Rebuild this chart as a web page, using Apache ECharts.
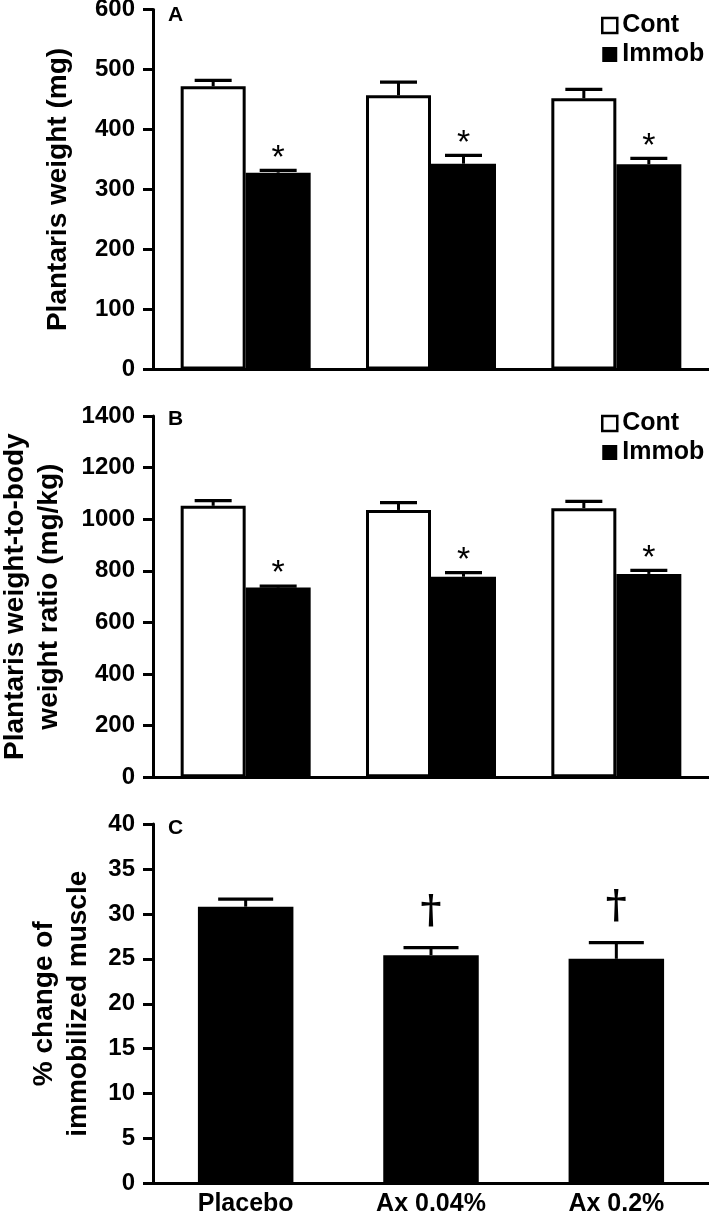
<!DOCTYPE html>
<html><head><meta charset="utf-8">
<script src="https://cdn.jsdelivr.net/npm/echarts@6/dist/echarts.min.js"></script>
<style>html,body{margin:0;padding:0;background:#fff}#c{width:709px;height:1215px}</style>
</head><body><div id="c"></div>
<script>
// ---- data ----
const categories = ['Placebo', 'Ax 0.04%', 'Ax 0.2%'];
const seriesNames = ['Cont', 'Immob'];
// Panel A: plantaris weight (mg)
const weightCont = [472, 457, 452];
const weightContErr = [10, 22, 15];
const weightImmob = [328, 343, 342];
const weightImmobErr = [4, 14, 10];
const weightImmobMarks = ['*', '*', '*'];
const weightTicks = [0, 100, 200, 300, 400, 500, 600];
// Panel B: plantaris weight-to-body weight ratio (mg/kg)
const ratioCont = [1052, 1036, 1043];
const ratioContErr = [20, 28, 26];
const ratioImmob = [735, 777, 788];
const ratioImmobErr = [6, 16, 14];
const ratioImmobMarks = ['*', '*', '*'];
const ratioTicks = [0, 200, 400, 600, 800, 1000, 1200, 1400];
// Panel C: % change of immobilized muscle
const changeVals = [30.8, 25.4, 25.0];
const changeErr = [0.85, 0.85, 1.8];
const changeMarks = ['', '\u2020', '\u2020'];
const changeTicks = [0, 5, 10, 15, 20, 25, 30, 35, 40];

const FF = "'Liberation Sans', Arial, Helvetica, sans-serif";
const chart = echarts.init(document.getElementById('c'), null, {renderer: 'canvas'});

const grids = [
  {left: 153, right: 0, top: 9.5, height: 360, containLabel: false, outerBoundsMode: 'none'},
  {left: 153, right: 0, top: 416, height: 361.3, containLabel: false, outerBoundsMode: 'none'},
  {left: 153, right: 0, top: 824, height: 359.5, containLabel: false, outerBoundsMode: 'none'}
];
const ticksArr = [weightTicks, ratioTicks, changeTicks];
const names = ['Plantaris weight (mg)', 'Plantaris weight-to-body\nweight ratio (mg/kg)', '% change of\nimmobilized muscle'];
const nameGaps = [78, 87, 58];

const xAxes = grids.map((g, k) => ({
  type: 'category', gridIndex: k, data: categories,
  axisLine: {show: true, lineStyle: {color: '#000', width: 3}},
  axisTick: {show: false},
  axisLabel: {show: k === 2, color: '#000', fontFamily: FF, fontWeight: 'bold', fontSize: 25, margin: 8}
}));
const yAxes = grids.map((g, k) => {
  const t = ticksArr[k];
  return {
    type: 'value', gridIndex: k, min: t[0], max: t[t.length - 1], interval: t[1] - t[0],
    name: names[k], nameLocation: 'middle', nameGap: nameGaps[k],
    nameTextStyle: {color: '#000', fontFamily: FF, fontWeight: 'bold', fontSize: 28, lineHeight: 34},
    axisLine: {show: true, lineStyle: {color: '#000', width: 3}},
    axisTick: {show: true, length: 10, lineStyle: {color: '#000', width: 3}},
    axisLabel: {color: '#000', fontFamily: FF, fontWeight: 'bold', fontSize: 24, margin: 18,
      formatter: v => String(v)},
    splitLine: {show: false}
  };
});

function errSeries(k, vals, errs, marks, offset, capW, markFont, markDy) {
  return {
    type: 'custom', xAxisIndex: k, yAxisIndex: k, z: 5, silent: true,
    data: vals.map((v, i) => [i, v, errs[i]]),
    renderItem: (params, api) => {
      const i = api.value(0), v = api.value(1), e = api.value(2);
      const b = api.coord([i, v]);
      const t = api.coord([i, v + e]);
      const x = b[0] + offset;
      const ch = [
        {type: 'line', shape: {x1: x, y1: b[1], x2: x, y2: t[1]}, style: {stroke: '#000', lineWidth: 3}},
        {type: 'line', shape: {x1: x - capW / 2, y1: t[1], x2: x + capW / 2, y2: t[1]}, style: {stroke: '#000', lineWidth: 3.2}}
      ];
      const m = marks ? marks[params.dataIndex] : '';
      if (m) ch.push({type: 'text', x: x, y: t[1] + markDy,
        style: {text: m, font: markFont, fill: '#000', align: 'center', verticalAlign: 'middle'}});
      return {type: 'group', children: ch};
    }
  };
}

const BW = 65;
const series = [];
[[weightCont, weightContErr, weightImmob, weightImmobErr, weightImmobMarks],
 [ratioCont, ratioContErr, ratioImmob, ratioImmobErr, ratioImmobMarks]].forEach((p, k) => {
  series.push({type: 'bar', name: seriesNames[0], xAxisIndex: k, yAxisIndex: k, data: p[0],
    barWidth: BW, barGap: '0%', itemStyle: {color: '#fff', borderColor: '#000', borderWidth: 3}});
  series.push({type: 'bar', name: seriesNames[1], xAxisIndex: k, yAxisIndex: k, data: p[2],
    barWidth: BW, barGap: '0%', itemStyle: {color: '#000'}});
  series.push(errSeries(k, p[0], p[1], null, -BW / 2, 37));
  series.push(errSeries(k, p[2], p[3], p[4], BW / 2, 37, "34px 'Liberation Sans', Arial, sans-serif", -12));
});
series.push({type: 'bar', name: 'change', xAxisIndex: 2, yAxisIndex: 2, data: changeVals,
  barWidth: 95.5, itemStyle: {color: '#000'}});
series.push(errSeries(2, changeVals, changeErr, changeMarks, 0, 55, "bold 40px 'DejaVu Serif', 'Liberation Serif', serif", -35));

const legendBase = {
  orient: 'vertical', left: 601, icon: 'rect', itemWidth: 15, itemHeight: 15, itemGap: 4,
  padding: 0, selectedMode: false,
  textStyle: {color: '#000', fontFamily: FF, fontWeight: 'bold', fontSize: 25, lineHeight: 24},
  data: [{name: 'Cont', itemStyle: {color: '#fff', borderColor: '#000', borderWidth: 2.5}},
         {name: 'Immob', itemStyle: {color: '#000', borderWidth: 0}}]
};

chart.setOption({
  backgroundColor: '#fff',
  animation: false,
  grid: grids,
  xAxis: xAxes,
  yAxis: yAxes,
  legend: [Object.assign({}, legendBase, {top: 13}), Object.assign({}, legendBase, {top: 411})],
  graphic: [
    {type: 'text', left: 168, top: 5, style: {text: 'A', font: "bold 21px " + FF, fill: '#000'}},
    {type: 'text', left: 168, top: 409, style: {text: 'B', font: "bold 21px " + FF, fill: '#000'}},
    {type: 'text', left: 168, top: 818, style: {text: 'C', font: "bold 21px " + FF, fill: '#000'}}
  ],
  series: series
});
</script>
</body></html>
